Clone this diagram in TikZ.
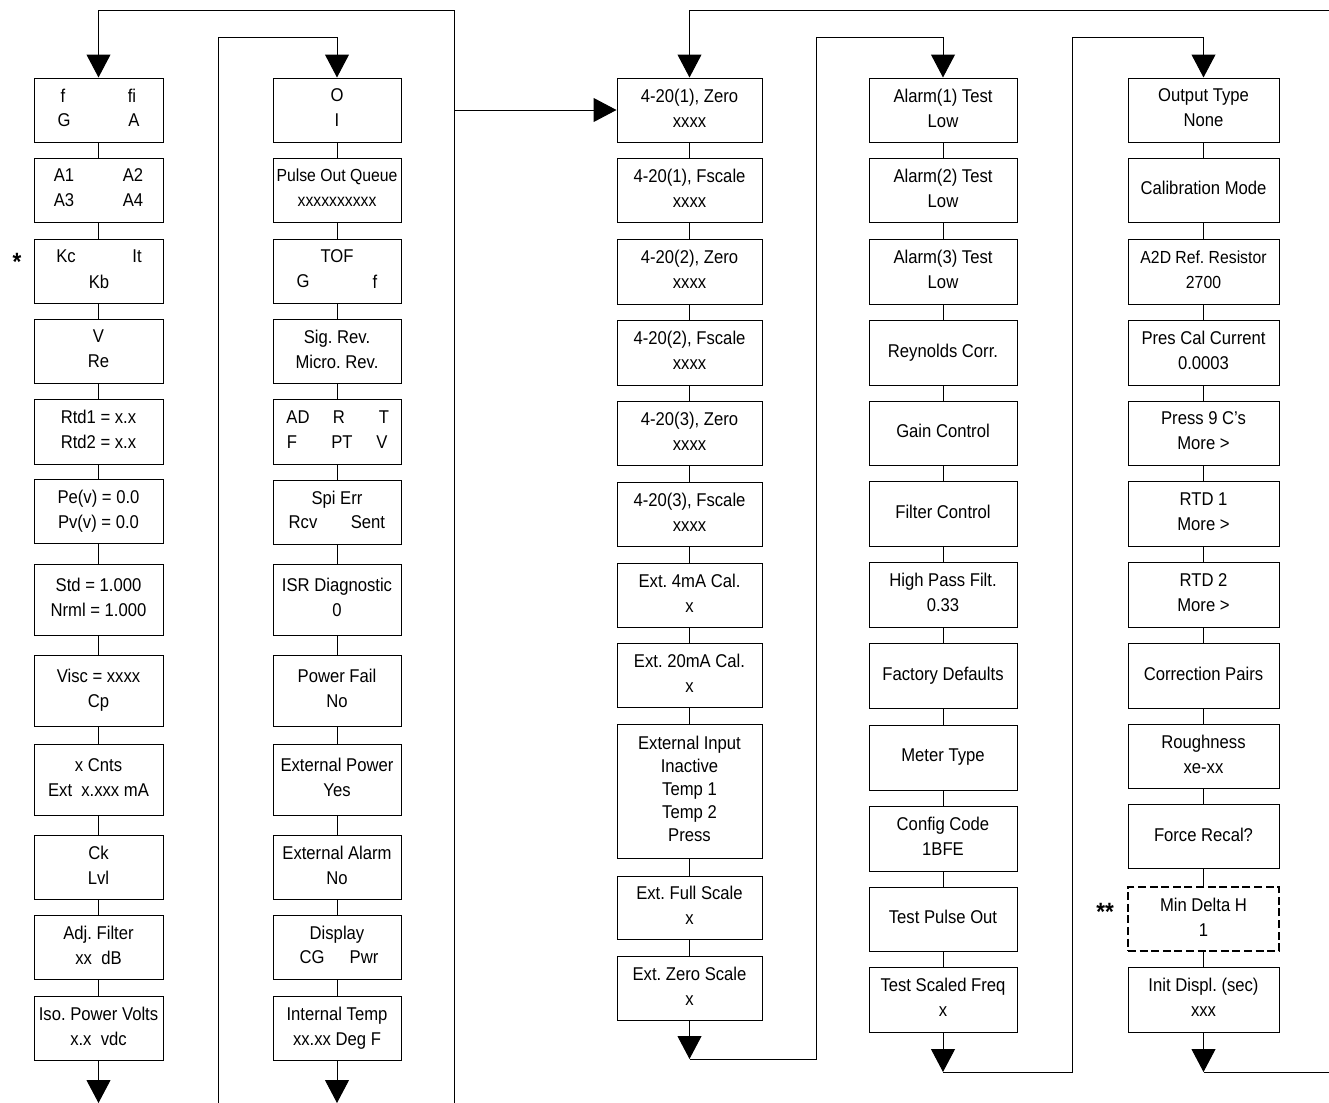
\documentclass[tikz,border=0pt]{standalone}
\usepackage{fontspec}
\setmainfont{Liberation Sans}[FakeStretch=0.9]
\usetikzlibrary{arrows.meta}
\frenchspacing
\newcommand{\myfnt}{\frenchspacing\fontsize{9.25pt}{12.5pt}\selectfont}
\newcommand{\mysmall}{\frenchspacing\fontsize{8.75pt}{12.5pt}\selectfont}
\newcommand{\sr}{\rule[-2.18pt]{0pt}{8.8pt}}
\begin{document}
\begin{tikzpicture}[x=0.5pt,y=-0.5pt,
  bx/.style={draw, rectangle, inner sep=0pt, align=center, line width=0.5pt, font=\myfnt},
  tx/.style={inner sep=0pt, font=\myfnt},
  cn/.style={line width=0.5pt},
  arr/.style={cn, -{Triangle[width=12pt,length=11.5pt]}},
  wa/.style={minimum width=64.5pt},
  wb/.style={minimum width=64pt},
  wc/.style={minimum width=72.5pt},
  wd/.style={minimum width=74pt},
  we/.style={minimum width=75.5pt},
  hs/.style={minimum height=32pt},
  hm/.style={minimum height=32.5pt},
  hl/.style={minimum height=35.5pt},
  star/.style={inner sep=0pt, anchor=base, font=\fontsize{12.5pt}{12.5pt}\selectfont\bfseries}]
\useasboundingbox (0,0) rectangle (1329,1103);

% ---------- column 1 ----------
\node[bx,wa,hs] (a1) at (98.5,110) {};
\node[tx] (a1t1) at (63,97.5) {\sr f};
\node[tx] (a1t2) at (132,97.5) {\sr fi};
\node[tx] (a1t3) at (64,122.5) {\sr G};
\node[tx] (a1t4) at (134,122.5) {\sr A};
\node[bx,wa,hs] (a2) at (98.5,190) {};
\node[tx] (a2t1) at (64,177.5) {\sr A1};
\node[tx] (a2t2) at (133,177.5) {\sr A2};
\node[tx] (a2t3) at (64,202.5) {\sr A3};
\node[tx] (a2t4) at (133,202.5) {\sr A4};
\node[bx,wa,hs] (a3) at (98.5,271) {};
\node[tx] (a3t1) at (66,258.5) {\sr Kc};
\node[tx] (a3t2) at (137,258.5) {\sr It};
\node[tx] (a3t3) at (99,283.5) {\sr Kb};
\node[bx,wa,hs] (a4) at (98.5,351) {\sr V\\\sr Re};
\node[bx,wa,hm] (a5) at (98.5,431.5) {\sr Rtd1 = x.x\\\sr Rtd2 = x.x};
\node[bx,wa,hs] (a6) at (98.5,511) {\sr Pe(v) = 0.0\\\sr Pv(v) = 0.0};
\node[bx,wa,hl] (a7) at (98.5,599.5) {\sr Std = 1.000\\\sr Nrml = 1.000};
\node[bx,wa,hl] (a8) at (98.5,690.5) {\sr Visc = xxxx\\\sr Cp};
\node[bx,wa,hl] (a9) at (98.5,779.5) {\sr x Cnts\\\sr Ext~~x.xxx mA};
\node[bx,wa,hs] (a10) at (98.5,867) {\sr Ck\\\sr Lvl};
\node[bx,wa,hs] (a11) at (98.5,947) {\sr Adj. Filter\\\sr xx~~dB};
\node[bx,wa,hs] (a12) at (98.5,1028) {\sr Iso. Power Volts\\\sr x.x~~vdc};
\node[star] (st1) at (17,270) {*};

% ---------- column 2 ----------
\node[bx,wb,hs] (b1) at (337,110) {\sr O\\\sr I};
\node[bx,wb,hs,font=\mysmall] (b2) at (337,190) {\sr Pulse Out Queue\\\sr xxxxxxxxxx};
\node[bx,wb,hs] (b3) at (337,271) {};
\node[tx] (b3t1) at (337,258.5) {\sr TOF};
\node[tx] (b3t2) at (303,283.5) {\sr G};
\node[tx] (b3t3) at (375,283.5) {\sr f};
\node[bx,wb,hs] (b4) at (337,351) {\sr Sig. Rev.\\\sr Micro. Rev.};
\node[bx,wb,hm] (b5) at (337,431.5) {};
\node[tx] (b5t1) at (298,419) {\sr AD};
\node[tx] (b5t2) at (339,419) {\sr R};
\node[tx] (b5t3) at (384,419) {\sr T};
\node[tx] (b5t4) at (292,444) {\sr F};
\node[tx] (b5t5) at (342,444) {\sr PT};
\node[tx] (b5t6) at (382,444) {\sr V};
\node[bx,wb,hs] (b6) at (337,512) {};
\node[tx] (b6t1) at (337,499.5) {\sr Spi Err};
\node[tx] (b6t2) at (303,524.5) {\sr Rcv};
\node[tx] (b6t3) at (368,524.5) {\sr Sent};
\node[bx,wb,hl] (b7) at (337,599.5) {\sr ISR Diagnostic\\\sr 0};
\node[bx,wb,hl] (b8) at (337,690.5) {\sr Power Fail\\\sr No};
\node[bx,wb,hl] (b9) at (337,779.5) {\sr External Power\\\sr Yes};
\node[bx,wb,hs] (b10) at (337,867) {\sr External Alarm\\\sr No};
\node[bx,wb,hs] (b11) at (337,947) {};
\node[tx] (b11t1) at (337,934.5) {\sr Display};
\node[tx] (b11t2) at (312,959.5) {\sr CG};
\node[tx] (b11t3) at (364,959.5) {\sr Pwr};
\node[bx,wb,hs] (b12) at (337,1028) {\sr Internal Temp\\\sr xx.xx Deg F};

% ---------- column 3 ----------
\node[bx,wc,hs] (c1) at (689.5,110) {\sr 4-20(1), Zero\\\sr xxxx};
\node[bx,wc,hs] (c2) at (689.5,190) {\sr 4-20(1), Fscale\\\sr xxxx};
\node[bx,wc,hm] (c3) at (689.5,271.5) {\sr 4-20(2), Zero\\\sr xxxx};
\node[bx,wc,hm] (c4) at (689.5,352.5) {\sr 4-20(2), Fscale\\\sr xxxx};
\node[bx,wc,hs] (c5) at (689.5,433) {\sr 4-20(3), Zero\\\sr xxxx};
\node[bx,wc,hs] (c6) at (689.5,514) {\sr 4-20(3), Fscale\\\sr xxxx};
\node[bx,wc,hs] (c7) at (689.5,595) {\sr Ext. 4mA Cal.\\\sr x};
\node[bx,wc,hs] (c8) at (689.5,675) {\sr Ext. 20mA Cal.\\\sr x};
\node[bx,wc,minimum height=67pt,font=\frenchspacing\fontsize{9.25pt}{11.5pt}\selectfont] (c9) at (689.5,791)
  {\sr External Input\\\sr Inactive\\\sr Temp 1\\\sr Temp 2\\\sr Press};
\node[bx,wc,minimum height=31.5pt] (c10) at (689.5,907.5) {\sr Ext. Full Scale\\\sr x};
\node[bx,wc,hs] (c11) at (689.5,988) {\sr Ext. Zero Scale\\\sr x};

% ---------- column 4 ----------
\node[bx,wd,hs] (d1) at (943,110) {\sr Alarm(1) Test\\\sr Low};
\node[bx,wd,hs] (d2) at (943,190) {\sr Alarm(2) Test\\\sr Low};
\node[bx,wd,hm] (d3) at (943,271.5) {\sr Alarm(3) Test\\\sr Low};
\node[bx,wd,hm] (d4) at (943,352.5) {\sr Reynolds Corr.};
\node[bx,wd,hs] (d5) at (943,433) {\sr Gain Control};
\node[bx,wd,hm] (d6) at (943,513.5) {\sr Filter Control};
\node[bx,wd,hm] (d7) at (943,594.5) {\sr High Pass Filt.\\\sr 0.33};
\node[bx,wd,hm] (d8) at (943,675.5) {\sr Factory Defaults};
\node[bx,wd,hm] (d9) at (943,757.5) {\sr Meter Type};
\node[bx,wd,hm] (d10) at (943,838.5) {\sr Config Code\\\sr 1BFE};
\node[bx,wd,hs] (d11) at (943,919) {\sr Test Pulse Out};
\node[bx,wd,hm] (d12) at (943,999.5) {\sr Test Scaled Freq\\\sr x};

% ---------- column 5 ----------
\node[bx,we,hs] (e1) at (1203.5,110) {\sr Output Type\\\sr None};
\node[bx,we,hs] (e2) at (1203.5,190) {\sr Calibration Mode};
\node[bx,we,hm,font=\mysmall] (e3) at (1203.5,271.5) {\sr A2D Ref. Resistor\\\sr 2700};
\node[bx,we,hm] (e4) at (1203.5,352.5) {\sr Pres Cal Current\\\sr 0.0003};
\node[bx,we,hs] (e5) at (1203.5,433) {\sr Press 9 C’s\\\sr More >};
\node[bx,we,hm] (e6) at (1203.5,513.5) {\sr RTD 1\\\sr More >};
\node[bx,we,hm] (e7) at (1203.5,594.5) {\sr RTD 2\\\sr More >};
\node[bx,we,hm] (e8) at (1203.5,676) {\sr Correction Pairs};
\node[bx,we,hs] (e9) at (1203.5,756) {\sr Roughness\\\sr xe-xx};
\node[bx,we,hs] (e10) at (1203.5,836.5) {\sr Force Recal?};
\node[bx,we,hs,dash pattern=on 4pt off 1.8pt,line width=0.75pt] (e11) at (1203.5,919) {\sr Min Delta H\\\sr 1};
\node[bx,we,hm] (e12) at (1203.5,999.5) {\sr Init Displ. (sec)\\\sr xxx};
\node[star] (st2) at (1105,920) {**};

% ---------- chain connectors ----------
\foreach \i [evaluate=\i as \j using int(\i+1)] in {1,...,11} {
  \draw[cn] (a\i.south) -- (a\j.north);
  \draw[cn] (b\i.south) -- (b\j.north);
  \draw[cn] (d\i.south) -- (d\j.north);
  \draw[cn] (e\i.south) -- (e\j.north);
}
\foreach \i [evaluate=\i as \j using int(\i+1)] in {1,...,10} {
  \draw[cn] (c\i.south) -- (c\j.north);
}

% ---------- loop connectors ----------
\coordinate (L1a) at (454,1103);
\coordinate (L1b) at (454,10);
\coordinate (L1c) at (98.5,10);
\coordinate (L1d) at (454,110);
\draw[arr] (L1a) -- (L1b) -- (L1c) -- (a1.north);
\draw[arr] (L1d) -- (c1.west);
\coordinate (E1) at (98.5,1103);
\draw[arr] (a12.south) -- (E1);

\coordinate (L2a) at (218,1103);
\coordinate (L2b) at (218,37);
\coordinate (L2c) at (337,37);
\draw[arr] (L2a) -- (L2b) -- (L2c) -- (b1.north);
\coordinate (E2) at (337,1103);
\draw[arr] (b12.south) -- (E2);

\coordinate (L3a) at (1329,10);
\coordinate (L3b) at (689.5,10);
\draw[arr] (L3a) -- (L3b) -- (c1.north);
\coordinate (E3) at (689.5,1059);
\draw[arr] (c11.south) -- (E3);

\coordinate (L4a) at (816,1059);
\coordinate (L4b) at (816,37);
\coordinate (L4c) at (943,37);
\draw[arr] (E3) -- (L4a) -- (L4b) -- (L4c) -- (d1.north);
\coordinate (E4) at (943,1072);
\draw[arr] (d12.south) -- (E4);

\coordinate (L5a) at (1072,1072);
\coordinate (L5b) at (1072,37);
\coordinate (L5c) at (1203.5,37);
\draw[arr] (E4) -- (L5a) -- (L5b) -- (L5c) -- (e1.north);
\coordinate (E5) at (1203.5,1072);
\draw[arr] (e12.south) -- (E5);
\coordinate (L6) at (1329,1072);
\draw[cn] (E5) -- (L6);
\end{tikzpicture}
\end{document}
